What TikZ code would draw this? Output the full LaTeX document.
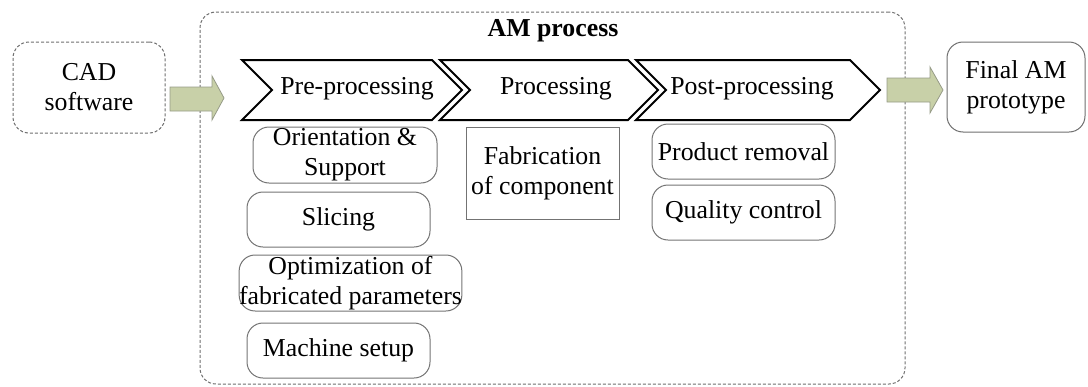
\documentclass[tikz,border=0pt]{standalone}
\usepackage{fontspec}
\setmainfont{Liberation Serif}
\usetikzlibrary{calc}
\definecolor{arrowfill}{RGB}{200,208,168}
\definecolor{arrowline}{RGB}{150,155,135}
\definecolor{dashgray}{RGB}{110,110,110}
\definecolor{boxgray}{RGB}{115,115,115}
\begin{document}
\begin{tikzpicture}[x=0.5pt,y=-0.5pt,
  font=\fontsize{12.9}{15}\selectfont,
  dashbox/.style={draw=dashgray, dash pattern=on 1.5pt off 1pt, line width=0.5pt, rounded corners=8pt, align=center, inner sep=0pt},
  subbox/.style={draw=boxgray, line width=0.5pt, rounded corners=8pt, align=center, inner sep=0pt},
  sharpbox/.style={draw=boxgray, line width=0.5pt, align=center, inner sep=0pt},
  chev/.style={draw=black, line width=1pt, line join=miter},
  fat/.style={draw=arrowline, fill=arrowfill, line width=0.4pt, line join=miter},
  lbl/.style={anchor=base, inner sep=0pt}]
\useasboundingbox (0,0) rectangle (1088,386);

% outer boxes
\node[dashbox, minimum width=352.5pt, minimum height=186pt] (am) at (552.5,198) {};
\node[font=\fontsize{12.9}{15}\selectfont\bfseries, lbl] (amlabel) at (553,36) {AM process};
\node[dashbox, minimum width=76pt, minimum height=45.5pt] (cad) at (89,87.5) {CAD\\software};
\node[subbox, draw=dashgray, minimum width=69pt, minimum height=45pt] (final) at (1016,87) {Final AM\\prototype};

% fat arrows
\draw[fat] (170,87) -- (212,87) -- (212,76) -- (224,98) -- (212,120) -- (212,111) -- (170,111) -- cycle;
\draw[fat] (887,78) -- (930,78) -- (930,67) -- (943,90) -- (930,113) -- (930,102) -- (887,102) -- cycle;

% chevrons
\draw[chev] (242,60) -- (432,60) -- (462,90) -- (432,120) -- (242,120) -- (272,90) -- cycle;
\draw[chev] (440,60) -- (628,60) -- (658,90) -- (628,120) -- (440,120) -- (470,90) -- cycle;
\draw[chev] (636,60) -- (850,60) -- (880,90) -- (850,120) -- (636,120) -- (666,90) -- cycle;
\node[lbl] (pre) at (357,94) {Pre-processing};
\node[lbl] (proc) at (556,94) {Processing};
\node[lbl] (post) at (752,94) {Post-processing};

% sub steps
\node[subbox, minimum width=92pt, minimum height=28pt] (orient) at (345,155) {Orientation \&\\Support};
\node[subbox, minimum width=91.5pt, minimum height=27.5pt] (slice) at (338.5,219.5) {Slicing};
\node[subbox, minimum width=107.5pt, minimum height=28pt] (optim) at (350.5,283) {Optimization of\\fabricated parameters};
\node[subbox, minimum width=91.5pt, minimum height=27.5pt] (mach) at (338.5,350.5) {Machine setup};
\node[sharpbox, minimum width=76.5pt, minimum height=46pt] (fab) at (542.5,173) {Fabrication\\of component};
\node[subbox, minimum width=91.5pt, minimum height=27.5pt] (remove) at (743.5,151.5) {Product removal};
\node[subbox, minimum width=91.5pt, minimum height=27.5pt] (quality) at (743.5,212.5) {Quality control};
\end{tikzpicture}
\end{document}
